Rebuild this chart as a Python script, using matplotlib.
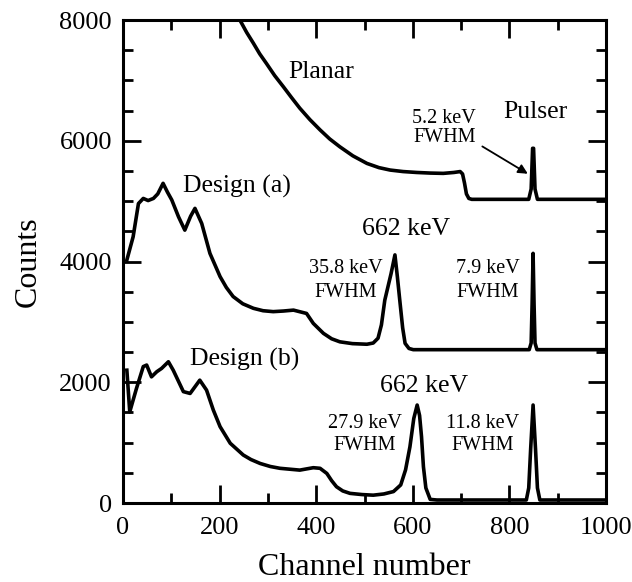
import matplotlib
matplotlib.use("Agg")
from matplotlib import pyplot as plt
from matplotlib.ticker import MultipleLocator

plt.rcParams['font.family'] = ['Liberation Serif', 'DejaVu Serif']

# Planar detector spectrum (offset upward by ~5000 counts)
planar_ch = [235, 242, 256, 270, 283, 297, 314, 332, 349, 366, 387, 408, 428,
             449, 476, 505, 530, 553, 580, 608, 636, 663, 685, 698, 703,
             707, 711, 716, 722, 840, 845, 848, 850, 853, 858, 1000]
planar_counts = [8150, 8000, 7795, 7615, 7440, 7280, 7080, 6895, 6715, 6540,
                 6350, 6180, 6030, 5900, 5750, 5625, 5555, 5515, 5490, 5475,
                 5465, 5460, 5475, 5490, 5450, 5300, 5120, 5045, 5030, 5030,
                 5200, 5875, 5875, 5200, 5030, 5030]

# Design (a) spectrum (offset ~2500 counts)
a_ch = [8, 21, 32, 42, 52, 63, 72, 83, 92, 101, 115, 128, 140, 149, 163, 180,
        201, 214, 228, 248, 270, 290, 311, 332, 353, 380, 394, 415, 432, 449,
        475, 505, 518, 528, 535, 542, 555, 563, 568, 573, 579, 584, 592, 601,
        841, 845, 847, 849, 851, 853, 857, 1000]
a_counts = [4025, 4410, 4960, 5045, 5010, 5045, 5120, 5295, 5150, 5020, 4740,
            4520, 4750, 4880, 4630, 4135, 3750, 3570, 3420, 3300, 3225, 3185,
            3170, 3180, 3195, 3140, 2975, 2810, 2720, 2670, 2640, 2630, 2650,
            2730, 2950, 3360, 3800, 4110, 3750, 3360, 2900, 2645, 2560, 2540,
            2540, 2650, 3300, 4135, 3300, 2650, 2540, 2540]

# Design (b) spectrum
b_ch = [8, 14, 28, 42, 49, 59, 70, 80, 94, 104, 125, 139, 159, 173, 187, 201,
        222, 249, 265, 284, 305, 325, 366, 394, 408, 422, 432, 442, 455, 470,
        495, 518, 540, 560, 575, 585, 594, 602, 609, 614, 618, 622, 627, 636,
        650, 835, 840, 844, 849, 854, 858, 863, 1000]
b_counts = [2200, 1510, 1900, 2260, 2285, 2090, 2175, 2230, 2340, 2200, 1845,
            1815, 2035, 1870, 1540, 1265, 990, 795, 720, 655, 605, 575, 545,
            585, 575, 490, 370, 270, 200, 160, 140, 130, 150, 190, 300, 550,
            930, 1400, 1623, 1450, 1100, 600, 250, 60, 50, 50, 250, 900, 1623,
            900, 250, 50, 50]

fig = plt.figure(figsize=(6.32, 5.82), dpi=100)
ax = fig.add_axes([0.1946, 0.1357, 0.7643, 0.8299])

for x, y in [(planar_ch, planar_counts), (a_ch, a_counts), (b_ch, b_counts)]:
    ax.plot(x, y, color='black', linewidth=2.6, solid_joinstyle='round')

ax.set_xlim(0, 1000)
ax.set_ylim(0, 8000)
ax.xaxis.set_major_locator(MultipleLocator(200))
ax.xaxis.set_minor_locator(MultipleLocator(100))
ax.yaxis.set_major_locator(MultipleLocator(2000))
ax.yaxis.set_minor_locator(MultipleLocator(500))
ax.tick_params(which='both', direction='in', top=True, right=True, width=2,
               labelsize=19)
ax.tick_params(axis='x', pad=10)
ax.tick_params(axis='y', pad=8)
ax.tick_params(which='major', length=13)
ax.tick_params(which='minor', length=7)
for s in ax.spines.values():
    s.set_linewidth(2.2)

ax.set_xlabel('Channel number', fontsize=23, labelpad=10)
ax.set_ylabel('Counts', fontsize=23, labelpad=12)

big = 18.5
small = 14.5
ax.text(342, 7040, 'Planar', fontsize=big, va='baseline')
ax.text(124, 5150, 'Design (a)', fontsize=big, va='baseline')
ax.text(139, 2270, 'Design (b)', fontsize=big, va='baseline')
ax.text(494, 4440, '662 keV', fontsize=big, va='baseline')
ax.text(532, 1840, '662 keV', fontsize=big, va='baseline')
ax.text(853, 6375, 'Pulser', fontsize=big, va='baseline', ha='center')

notes = [(665, 6295, 5980, '5.2 keV'), (462, 3810, 3410, '35.8 keV'),
         (756, 3810, 3410, '7.9 keV'), (501, 1240, 880, '27.9 keV'),
         (745, 1240, 880, '11.8 keV')]
for x, y1, y2, t in notes:
    ax.text(x, y1, t, fontsize=small, ha='center', va='baseline')
    ax.text(x, y2, 'FWHM', fontsize=small, ha='center', va='baseline')

ax.annotate('', xy=(843, 5430), xytext=(739, 5930),
            arrowprops=dict(arrowstyle='-|>', color='black', lw=1.3,
                            mutation_scale=14))

fig.savefig('out.png', dpi=100)
